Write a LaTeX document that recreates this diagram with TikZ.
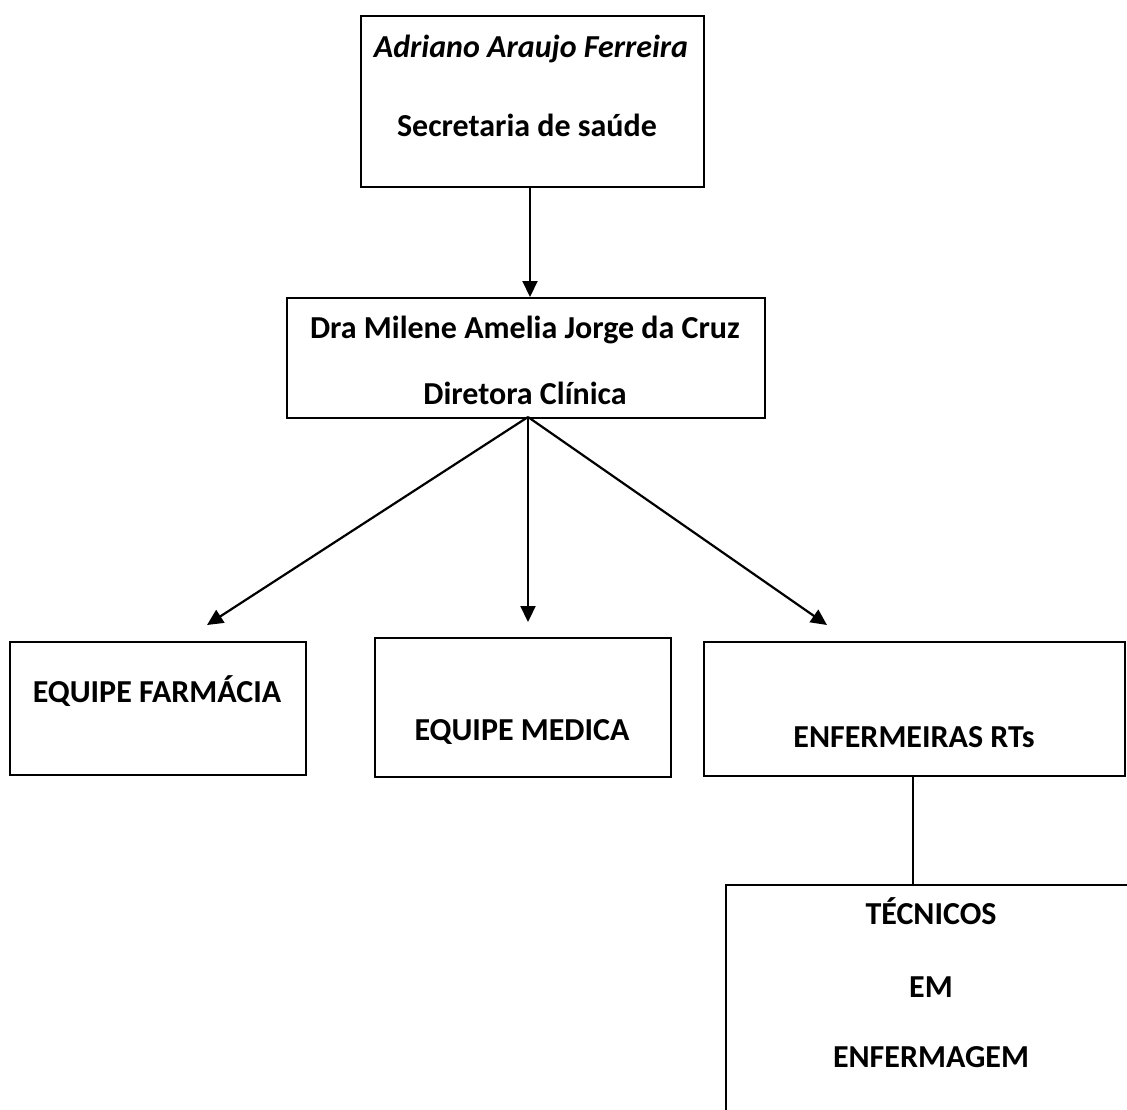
\documentclass[tikz,border=0pt]{standalone}
\usepackage{fontspec}
\setmainfont{Carlito}
\usetikzlibrary{arrows.meta}
\begin{document}
\begin{tikzpicture}[x=1pt,y=-1pt,
  box/.style={draw=black,line width=2.2pt,rectangle,inner sep=0pt,anchor=north west},
  lbl/.style={font=\fontsize{32}{36}\selectfont\bfseries,anchor=base,inner sep=0pt},
  conn/.style={line width=2.2pt},
  arr/.style={line width=2.2pt,-{Triangle[length=16pt,width=15pt]}}]
\useasboundingbox (0,0) rectangle (1127,1110);
\clip (0,0) rectangle (1127,1110);
% boxes
\node[box,minimum width=343pt,minimum height=171pt] (top) at (360,15) {};
\node[box,minimum width=478pt,minimum height=120pt] (mid) at (286,297) {};
\node[box,minimum width=296pt,minimum height=133pt] (farm) at (9,641) {};
\node[box,minimum width=296pt,minimum height=139pt] (med) at (374,637) {};
\node[box,minimum width=421pt,minimum height=134pt] (enf) at (703,641) {};
\node[box,minimum width=460pt,minimum height=300pt] (tec) at (725,884) {};
% texts
\node[lbl,font=\fontsize{32}{36}\selectfont\bfseries\itshape] (t1) at (531,58) {Adriano Araujo Ferreira};
\node[lbl] (t2) at (527,137) {Secretaria de saúde};
\node[lbl] (m1) at (525,338) {Dra Milene Amelia Jorge da Cruz};
\node[lbl] (m2) at (525,404) {Diretora Clínica};
\node[lbl] (f1) at (157,702) {EQUIPE FARMÁCIA};
\node[lbl] (e1) at (522,740) {EQUIPE MEDICA};
\node[lbl] (r1) at (914,747) {ENFERMEIRAS RTs};
\node[lbl] (c1) at (931,924) {TÉCNICOS};
\node[lbl] (c2) at (931,997) {EM};
\node[lbl] (c3) at (931,1067) {ENFERMAGEM};
% connectors
\coordinate (topout) at (530,186);
\coordinate (topin) at (530,297);
\coordinate (midout) at (528,417);
\coordinate (tipL) at (207,625);
\coordinate (tipM) at (528,622);
\coordinate (tipR) at (827,625);
\coordinate (enfout) at (913,775);
\coordinate (tecin) at (913,884);
\draw[arr] (topout) -- (topin);
\draw[arr] (midout) -- (tipL);
\draw[arr] (midout) -- (tipM);
\draw[arr] (midout) -- (tipR);
\draw[conn] (enfout) -- (tecin);
\end{tikzpicture}
\end{document}
